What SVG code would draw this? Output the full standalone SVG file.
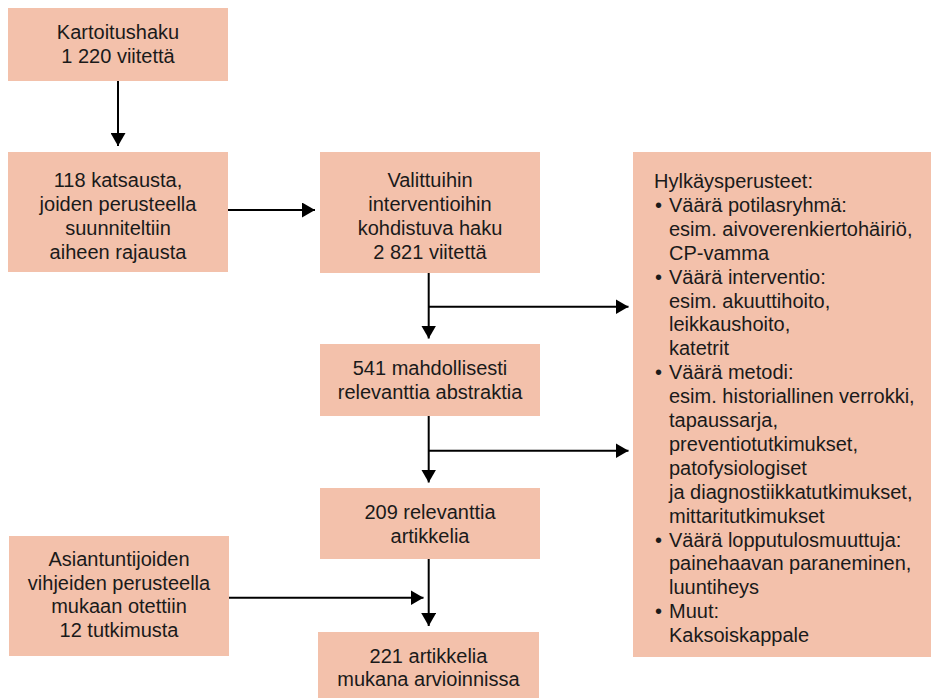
<svg xmlns="http://www.w3.org/2000/svg" width="931" height="698" viewBox="0 0 931 698">
<style>
.box{fill:#f3c1ab;}
text{font-family:"Liberation Sans",Arial,sans-serif;font-size:20px;fill:#1a1a1a;}
.c{text-anchor:middle;}
.ln{stroke:#000;stroke-width:2;fill:none;}
</style>
<defs>
<marker id="ah" markerUnits="userSpaceOnUse" markerWidth="13" markerHeight="15" viewBox="0 0 13 15" refX="13" refY="7.5" orient="auto">
<path d="M0,0 L13,7.5 L0,15 Z" fill="#000"/>
</marker>
</defs>
<rect width="931" height="698" fill="#fff"/>
<g id="connectors">
<line class="ln" x1="118" y1="81" x2="118" y2="146" marker-end="url(#ah)"/>
<line class="ln" x1="228" y1="210" x2="315" y2="210" marker-end="url(#ah)"/>
<line class="ln" x1="428.7" y1="273" x2="428.7" y2="338.5" marker-end="url(#ah)"/>
<line class="ln" x1="428.7" y1="306.7" x2="628.5" y2="306.7" marker-end="url(#ah)"/>
<line class="ln" x1="428.7" y1="416" x2="428.7" y2="482.5" marker-end="url(#ah)"/>
<line class="ln" x1="428.7" y1="450.7" x2="628.5" y2="450.7" marker-end="url(#ah)"/>
<line class="ln" x1="428.7" y1="559" x2="428.7" y2="626" marker-end="url(#ah)"/>
<line class="ln" x1="229" y1="597.7" x2="423.5" y2="597.7" marker-end="url(#ah)"/>
</g>
<g id="n1">
<rect class="box" x="8" y="8" width="220" height="73"/>
<text class="c" x="118" y="39.3">Kartoitushaku</text>
<text class="c" x="118" y="63.3">1 220 viitettä</text>
</g>
<g id="n2">
<rect class="box" x="8" y="152" width="220" height="120"/>
<text class="c" x="118" y="187">118 katsausta,</text>
<text class="c" x="118" y="211">joiden perusteella</text>
<text class="c" x="118" y="235">suunniteltiin</text>
<text class="c" x="118" y="259">aiheen rajausta</text>
</g>
<g id="n3">
<rect class="box" x="320" y="152" width="220" height="121"/>
<text class="c" x="430" y="187">Valittuihin</text>
<text class="c" x="430" y="211">interventioihin</text>
<text class="c" x="430" y="235">kohdistuva haku</text>
<text class="c" x="430" y="259">2 821 viitettä</text>
</g>
<g id="n4">
<rect class="box" x="320" y="344" width="220" height="72"/>
<text class="c" x="430" y="375">541 mahdollisesti</text>
<text class="c" x="430" y="399">relevanttia abstraktia</text>
</g>
<g id="n5">
<rect class="box" x="320" y="488" width="220" height="71"/>
<text class="c" x="430" y="519">209 relevanttia</text>
<text class="c" x="430" y="543">artikkelia</text>
</g>
<g id="n6">
<rect class="box" x="9" y="536" width="220" height="120"/>
<text class="c" x="119" y="566">Asiantuntijoiden</text>
<text class="c" x="119" y="589.5">vihjeiden perusteella</text>
<text class="c" x="119" y="613">mukaan otettiin</text>
<text class="c" x="119" y="637">12 tutkimusta</text>
</g>
<g id="n7">
<rect class="box" x="318" y="632" width="221" height="66"/>
<text class="c" x="428.5" y="662.5">221 artikkelia</text>
<text class="c" x="428.5" y="686">mukana arvioinnissa</text>
</g>
<g id="n8">
<rect class="box" x="633" y="152" width="298" height="505"/>
<text x="654" y="188">Hylkäysperusteet:</text>
<text x="655" y="211.9">•</text><text x="669" y="211.9">Väärä potilasryhmä:</text>
<text x="669" y="235.8">esim. aivoverenkiertohäiriö,</text>
<text x="669" y="259.7">CP-vamma</text>
<text x="655" y="283.6">•</text><text x="669" y="283.6">Väärä interventio:</text>
<text x="669" y="307.5">esim. akuuttihoito,</text>
<text x="669" y="331.4">leikkaushoito,</text>
<text x="669" y="355.3">katetrit</text>
<text x="655" y="379.2">•</text><text x="669" y="379.2">Väärä metodi:</text>
<text x="669" y="403.1">esim. historiallinen verrokki,</text>
<text x="669" y="427">tapaussarja,</text>
<text x="669" y="450.9">preventiotutkimukset,</text>
<text x="669" y="474.8">patofysiologiset</text>
<text x="669" y="498.7">ja diagnostiikkatutkimukset,</text>
<text x="669" y="522.6">mittaritutkimukset</text>
<text x="655" y="546.5">•</text><text x="669" y="546.5">Väärä lopputulosmuuttuja:</text>
<text x="669" y="570.4">painehaavan paraneminen,</text>
<text x="669" y="594.3">luuntiheys</text>
<text x="655" y="618.2">•</text><text x="669" y="618.2">Muut:</text>
<text x="669" y="642.1">Kaksoiskappale</text>
</g>
</svg>
